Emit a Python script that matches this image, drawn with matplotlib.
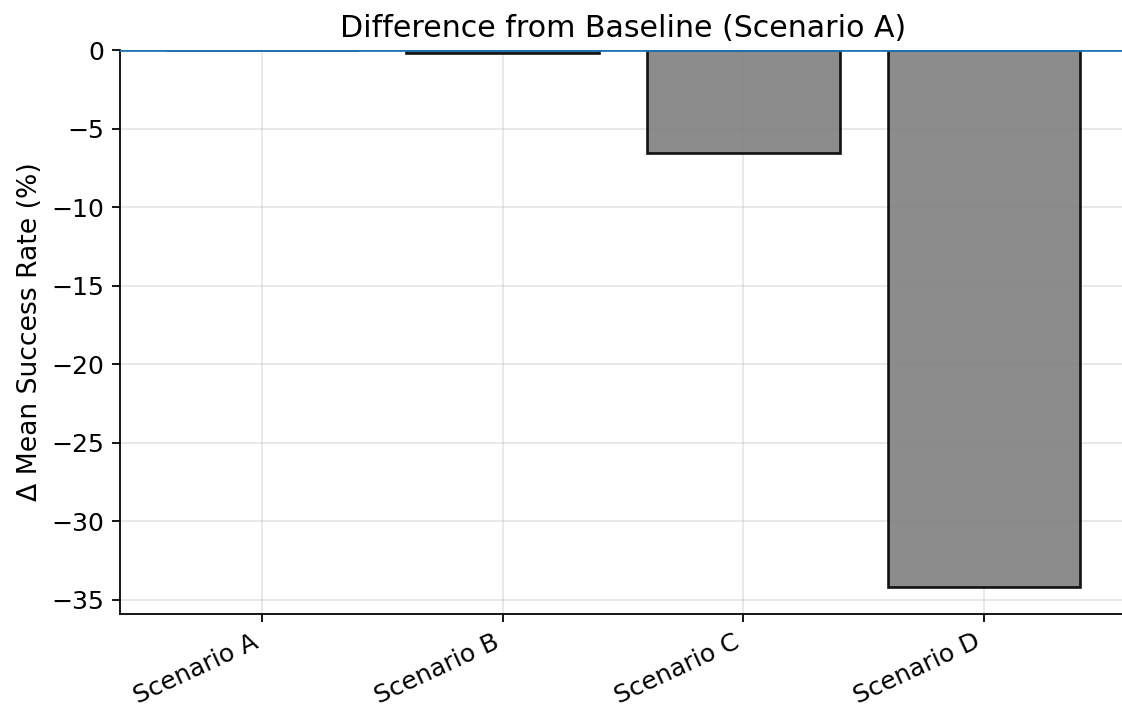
import matplotlib
matplotlib.use("Agg")
import matplotlib.pyplot as plt

scenarios = ["Scenario A", "Scenario B", "Scenario C", "Scenario D"]
delta_success = [0.0, -0.15, -6.55, -34.2]

fig, ax = plt.subplots(figsize=(7.0125, 4.41875), dpi=160)
fig.subplots_adjust(left=0.107, right=1.0036, top=0.929, bottom=0.1315)

ax.bar(scenarios, delta_success, width=0.8, color="gray", alpha=0.9,
       edgecolor="black", linewidth=1.2)
ax.axhline(0, color="C0", linewidth=1.25, zorder=3)

ax.set_title("Difference from Baseline (Scenario A)", fontsize=13.5)
ax.set_ylabel("\u0394 Mean Success Rate (%)", fontsize=12)
ax.tick_params(axis="both", labelsize=11.3)
plt.setp(ax.get_xticklabels(), rotation=25, ha="right")
ax.grid(True, alpha=0.3)
ax.set_axisbelow(True)
ax.spines["top"].set_visible(False)
ax.spines["right"].set_visible(False)

fig.savefig("out.png", dpi=160)
plt.close(fig)
